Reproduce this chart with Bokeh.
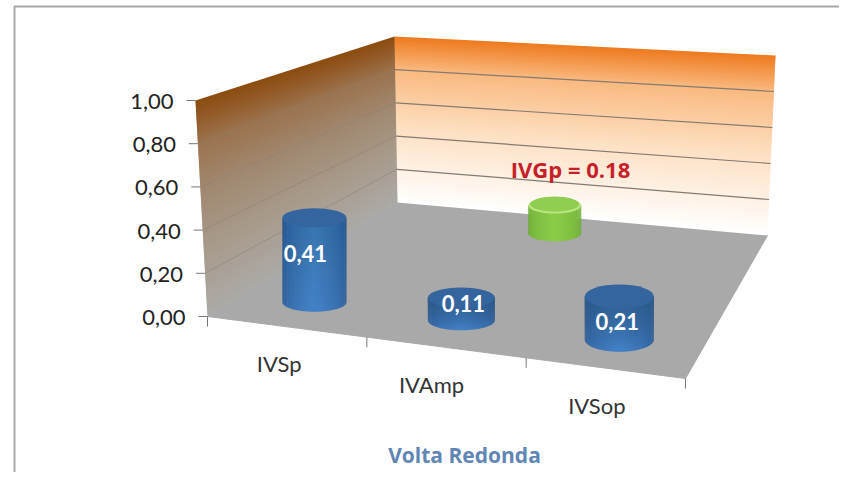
import math
from bokeh.plotting import figure
from bokeh.embed import file_html
from bokeh.resources import INLINE
from bokeh.core.properties import value as v_
from bokeh.models import Range1d

categories = ["IVSp", "IVAmp", "IVSop"]
values = [0.41, 0.11, 0.21]
value_labels = ["0,41", "0,11", "0,21"]
green_name = "IVGp = 0.18"
green_value = 0.18
y_ticks = [0.0, 0.2, 0.4, 0.6, 0.8, 1.0]
y_labels = ["0,00", "0,20", "0,40", "0,60", "0,80", "1,00"]
title = "Volta Redonda"

W, H = 839, 472

# 3D box corners in image pixels (front-left, front-right, back-left, back-right), floor then top
F = [(207, 316), (685, 378), (397, 202), (767, 235)]
T = [(195, 100), (690, 165), (394, 36), (775, 55)]


def P(u, v, h):
    def bil(c):
        fx = c[0][0] + (c[1][0] - c[0][0]) * u
        fy = c[0][1] + (c[1][1] - c[0][1]) * u
        bx = c[2][0] + (c[3][0] - c[2][0]) * u
        by = c[2][1] + (c[3][1] - c[2][1]) * u
        return fx + (bx - fx) * v, fy + (by - fy) * v
    a, b = bil(F), bil(T)
    return a[0] + (b[0] - a[0]) * h, a[1] + (b[1] - a[1]) * h


def mix(a, b, t):
    return "#%02x%02x%02x" % tuple(round(a[i] + (b[i] - a[i]) * t) for i in range(3))


def ramp(stops, t):
    for (t0, c0), (t1, c1) in zip(stops, stops[1:]):
        if t <= t1:
            return mix(c0, c1, (t - t0) / (t1 - t0))
    return mix(stops[-1][1], stops[-1][1], 0)


p = figure(width=W, height=H, output_backend="svg", toolbar_location=None,
           x_range=Range1d(0, W), y_range=Range1d(H, 0),
           min_border=0, outline_line_color=None, background_fill_color="white",
           border_fill_color="white")
p.axis.visible = False
p.grid.visible = False

# chart border
p.line([14, 14, W], [H, 6, 6], line_color="#a8a8a8", line_width=2)

# floor
corners = [(0, 0), (1, 0), (1, 1), (0, 1)]
p.patch([P(u, v, 0)[0] for u, v in corners], [P(u, v, 0)[1] for u, v in corners],
        fill_color="#a9a9a9", line_color="#a9a9a9")

# walls as graded strips
N = 90
back_stops = [(0, (255, 255, 255)), (0.1, (255, 248, 242)), (0.45, (253, 224, 194)),
              (0.8, (250, 185, 128)), (1, (238, 122, 30))]
left_stops = [(0, (172, 170, 167)), (0.3, (168, 155, 140)), (0.6, (160, 135, 110)),
              (0.8, (155, 115, 78)), (0.93, (146, 88, 36)), (1, (140, 76, 14))]
wx, wy, wc = [], [], []
for i in range(N):
    h0, h1 = i / N, min((i + 1.6) / N, 1)
    c = [P(0, 1, h0), P(1, 1, h0), P(1, 1, h1), P(0, 1, h1)]
    wx.append([q[0] for q in c]); wy.append([q[1] for q in c]); wc.append(ramp(back_stops, (i + .5) / N))
    c = [P(0, 0, h0), P(0, 1, h0), P(0, 1, h1), P(0, 0, h1)]
    wx.append([q[0] for q in c]); wy.append([q[1] for q in c]); wc.append(ramp(left_stops, (i + .5) / N))
p.patches(wx, wy, fill_color=wc, line_color=None)

# gridlines
for t in y_ticks[1:-1]:
    a, b, c = P(0, 0, t), P(0, 1, t), P(1, 1, t)
    p.line([a[0], b[0]], [a[1], b[1]], line_color="#8d7f72", line_width=1, line_alpha=0.55)
    p.line([b[0], c[0]], [b[1], c[1]], line_color="#847a70", line_width=1.2)

# y axis ticks and labels
for t, s in zip(y_ticks, y_labels):
    x, y = P(0, 0, t)
    p.line([x - 9, x], [y, y], line_color="#777777", line_width=1)
    p.text([x - 22], [y + 1], text=[s], text_font=v_("Lato"), text_font_size="22px",
           text_color="#222222", text_align="right", text_baseline="middle")

# x axis ticks
for k in range(4):
    x, y = P(k / 3, 0, 0)
    p.line([x, x], [y, y + 10], line_color="#777777", line_width=1)


def cylinder(cx, cy_base, cy_top, rx, ry, edge, mid, top, shadow, shadow_alpha):
    """Shaded columns, a translucent shadow falling from the lid, then the lid."""
    n = 34
    xs, ys, cs = [], [], []
    for i in range(n):
        a0 = math.pi - math.pi * i / n
        a1 = max(math.pi - math.pi * (i + 1.3) / n, 0)
        x0, x1 = cx + rx * math.cos(a0), cx + rx * math.cos(a1)
        y0, y1 = cy_base + ry * math.sin(a0), cy_base + ry * math.sin(a1)
        t = (i + .5) / n
        xs.append([x0, x1, x1, x0])
        ys.append([cy_top, cy_top, y1, y0])
        cs.append(mix(edge, mid, (1 - abs(t - .5) * 2) ** .7))
    p.patches(xs, ys, fill_color=cs, line_color=None)
    # shadow: nested silhouettes, so that alpha adds up towards the lid
    sx, sy = [], []
    arc = [math.pi - math.pi * k / 24 for k in range(25)]
    rows = 12
    for j in range(1, rows):
        level = cy_top + (cy_base - cy_top) * j / rows
        sx.append([cx + rx * math.cos(a) for a in arc])
        sy.append([level + ry * math.sin(a) for a in arc])
        sx[-1] += [cx + rx, cx - rx]
        sy[-1] += [cy_top, cy_top]
    if shadow_alpha > 0:
        p.patches(sx, sy, fill_color=shadow, fill_alpha=shadow_alpha, line_color=None)
    p.ellipse([cx], [cy_top], width=[2 * rx], height=[2 * ry], fill_color=top, line_color=None)


# cylinder layout on the floor
front_u = [0.151, 0.473, 0.819]
front_v = 0.2
rx_front = [32, 33.5, 34.5]
ry_front = [9.5, 10, 12]
shadow_front = [0.012, 0.07, 0.07]
label_dx = [-9, 2, -2]
label_dy = [-6, -5, 3]
cat_dx = [-8, -15, -9]
blue_edge, blue_mid, blue_top = (40, 84, 138), (68, 130, 200), "#34659f"
blue_shadow = "#28507f"

# green sits at the back, drawn first
gu, gv = 0.47, 0.88
green_scale = 0.87
bx, by = P(gu, gv, 0)
tx, ty = P(gu, gv, green_value * green_scale)
cylinder(bx, by, ty, 26.5, 8, (100, 165, 50), (140, 204, 72), "#b8e580", "#64a532", 0)
p.ellipse([bx], [ty - 1.5], width=[49], height=[15], fill_color="#8fce50", line_color=None)
p.text([570], [168], text=[green_name], text_font=v_("Open Sans"), text_font_size="22px",
       text_font_style="bold", text_color="#c8202a", text_align="center", text_baseline="middle")

for u, val, s, rx, ry, sh, dx, dy in zip(front_u, values, value_labels, rx_front, ry_front,
                                          shadow_front, label_dx, label_dy):
    bx, by = P(u, front_v, 0)
    tx, ty = P(u, front_v, val)
    cylinder(bx, by, ty, rx, ry, blue_edge, blue_mid, blue_top, blue_shadow, sh)
    p.text([bx + dx], [(by + ty) / 2 + dy], text=[s], text_font=v_("Lato"), text_font_size="22px",
           text_font_style="bold", text_color="white", text_align="center", text_baseline="middle")

# category labels below the front edge
for k, c in enumerate(categories):
    x, y = P((k + .5) / 3, 0, 0)
    p.text([x + cat_dx[k]], [y + 37], text=[c], text_font=v_("Lato"), text_font_size="22px",
           text_color="#333333", text_align="center", text_baseline="middle")

p.text([464], [454], text=[title], text_font=v_("Open Sans"), text_font_size="21px", text_font_style="bold",
       text_color="#5f86b4", text_align="center", text_baseline="middle")

open("out.html", "w").write(file_html(p, INLINE))
